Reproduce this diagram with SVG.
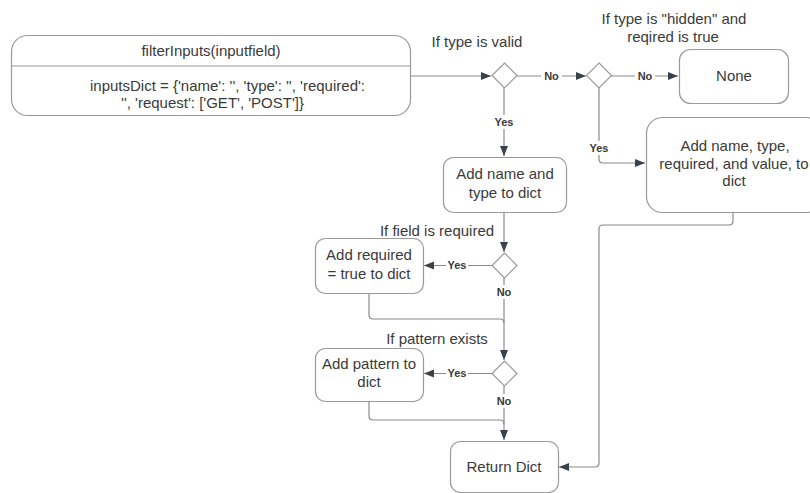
<svg xmlns="http://www.w3.org/2000/svg" width="810" height="493" viewBox="0 0 810 493">
<defs>
<style>
.box{fill:#fff;stroke:#9a9a9a;stroke-width:1.2}
.dia{fill:#fff;stroke:#9a9a9a;stroke-width:1.2}
.t{font-family:"Liberation Sans",Arial,sans-serif;font-size:15px;fill:#3a3a3a;text-anchor:middle;dominant-baseline:central}
.lb{font-family:"Liberation Sans",Arial,sans-serif;font-size:11px;font-weight:bold;fill:#3a3a3a;text-anchor:middle;dominant-baseline:central}
.ln{fill:none;stroke:#8a8a8a;stroke-width:1.2}
.bg{fill:#fff}
</style>
<marker id="ah" viewBox="0 0 10 10" refX="10" refY="5" markerWidth="10" markerHeight="10" markerUnits="userSpaceOnUse" orient="auto">
<path d="M0,1 L10,5 L0,9 Z" fill="#3a414a"/>
</marker>
</defs>
<rect width="810" height="493" fill="#fff"/>

<g id="connectors">
<path class="ln" d="M410,76 H491" marker-end="url(#ah)"/>
<path class="ln" d="M517,76 H586" marker-end="url(#ah)"/>
<path class="ln" d="M611,76 H678" marker-end="url(#ah)"/>
<path class="ln" d="M504,88 V156" marker-end="url(#ah)"/>
<path class="ln" d="M599,88 V159 Q599,163 603,163 H645" marker-end="url(#ah)"/>
<path class="ln" d="M504,212 V252" marker-end="url(#ah)"/>
<path class="ln" d="M492,265.5 H424" marker-end="url(#ah)"/>
<path class="ln" d="M504,278 V360" marker-end="url(#ah)"/>
<path class="ln" d="M369,293 V315 Q369,319 373,319 H500 Q504,319 504,323"/>
<path class="ln" d="M492,373.5 H424" marker-end="url(#ah)"/>
<path class="ln" d="M504,386 V440" marker-end="url(#ah)"/>
<path class="ln" d="M369,401 V416 Q369,420 373,420 H500 Q504,420 504,424"/>
<path class="ln" d="M733,212 V221 Q733,225 729,225 H603 Q599,225 599,229 V463 Q599,467 595,467 H559" marker-end="url(#ah)"/>
<rect class="bg" x="541" y="69" width="21" height="14"/>
<text class="lb" x="551.5" y="76">No</text>
<rect class="bg" x="635" y="69" width="20" height="14"/>
<text class="lb" x="645" y="76">No</text>
<rect class="bg" x="493" y="115" width="22" height="14"/>
<text class="lb" x="504" y="122">Yes</text>
<rect class="bg" x="588" y="141" width="22" height="14"/>
<text class="lb" x="599" y="148">Yes</text>
<rect class="bg" x="446" y="258" width="22" height="14"/>
<text class="lb" x="457" y="264.5">Yes</text>
<rect class="bg" x="494" y="285" width="20" height="14"/>
<text class="lb" x="504" y="292">No</text>
<rect class="bg" x="446" y="366" width="22" height="14"/>
<text class="lb" x="457" y="373">Yes</text>
<rect class="bg" x="494" y="394" width="20" height="14"/>
<text class="lb" x="504" y="401">No</text>
</g>

<g id="main">
<rect class="box" x="11.5" y="35.5" width="399" height="80" rx="16"/>
<line x1="11.5" y1="66" x2="410.5" y2="66" stroke="#9a9a9a" stroke-width="1.2"/>
<text class="t" x="211" y="50">filterInputs(inputfield)</text>
<text class="t" x="227.5" y="85">inputsDict = {'name': '', 'type': '', 'required':</text>
<text class="t" x="212.5" y="102">'', 'request': ['GET', 'POST']}</text>
</g>

<g id="d1">
<path class="dia" d="M504.5,63 L517,75.5 L504.5,88 L492,75.5 Z"/>
<text class="t" x="477" y="41">If type is valid</text>
</g>

<g id="d2">
<path class="dia" d="M599,63 L611.5,75.5 L599,88 L586.5,75.5 Z"/>
<text class="t" x="674" y="18">If type is "hidden" and</text>
<text class="t" x="673" y="36">reqired is true</text>
</g>

<g id="none">
<rect class="box" x="679.5" y="49.5" width="109" height="54" rx="11"/>
<text class="t" x="734" y="75">None</text>
</g>

<g id="addNameType">
<rect class="box" x="443.5" y="157.5" width="123" height="55" rx="10"/>
<text class="t" x="505" y="173">Add name and</text>
<text class="t" x="505" y="192">type to dict</text>
</g>

<g id="addAll">
<rect class="box" x="646.5" y="117.5" width="176" height="95" rx="16"/>
<text class="t" x="735" y="145">Add name, type,</text>
<text class="t" x="734" y="163">required, and value, to</text>
<text class="t" x="734" y="180">dict</text>
</g>

<g id="d3">
<path class="dia" d="M504.5,253 L517,265.5 L504.5,278 L492,265.5 Z"/>
<text class="t" x="437" y="230">If field is required</text>
</g>

<g id="addRequired">
<rect class="box" x="315.5" y="238.5" width="108" height="55" rx="10"/>
<text class="t" x="369" y="254">Add required</text>
<text class="t" x="369" y="273">= true to dict</text>
</g>

<g id="d4">
<path class="dia" d="M504.5,361 L517,373.5 L504.5,386 L492,373.5 Z"/>
<text class="t" x="437" y="338">If pattern exists</text>
</g>

<g id="addPattern">
<rect class="box" x="315.5" y="348.5" width="108" height="53" rx="10"/>
<text class="t" x="369" y="363">Add pattern to</text>
<text class="t" x="369" y="381">dict</text>
</g>

<g id="returnDict">
<rect class="box" x="450.5" y="441.5" width="108" height="51" rx="10"/>
<text class="t" x="504" y="466">Return Dict</text>
</g>
</svg>
